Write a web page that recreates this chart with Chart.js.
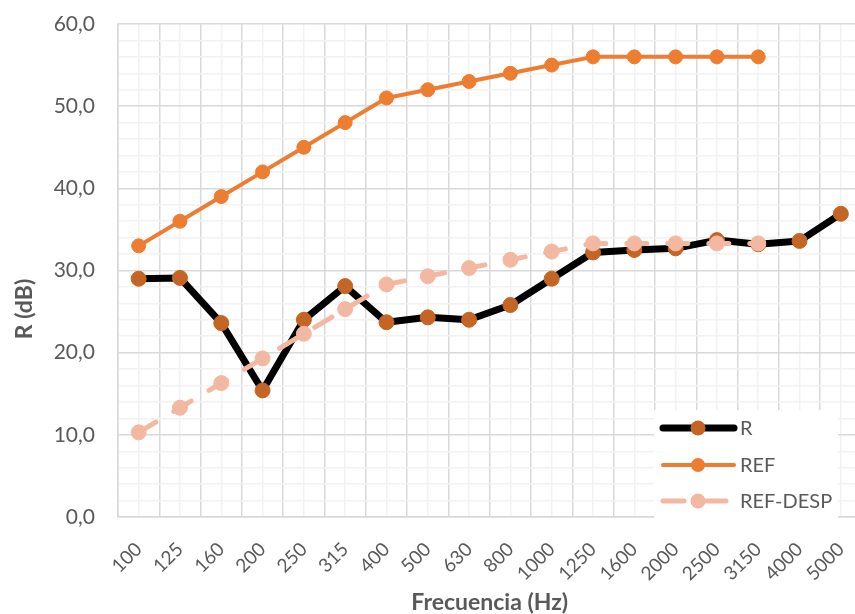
<!DOCTYPE html>
<html>
<head>
<meta charset="utf-8">
<script src="https://cdn.jsdelivr.net/npm/chart.js@4"></script>
<style>
html,body{margin:0;padding:0;overflow:hidden;background:#fff;width:855px;height:614px;}
canvas{display:block;}
</style>
</head>
<body>
<canvas id="c" width="870" height="614" style="width:870px;height:614px"></canvas>
<script>
const categories = ['100','125','160','200','250','315','400','500','630','800','1000','1250','1600','2000','2500','3150','4000','5000'];
const rValues    = [29.0, 29.1, 23.6, 15.4, 24.0, 28.1, 23.7, 24.3, 24.0, 25.8, 29.0, 32.2, 32.5, 32.7, 33.7, 33.2, 33.6, 36.9];
const refValues  = [33, 36, 39, 42, 45, 48, 51, 52, 53, 54, 55, 56, 56, 56, 56, 56, null, null];
const despValues = [10.3, 13.3, 16.3, 19.3, 22.3, 25.3, 28.3, 29.3, 30.3, 31.3, 32.3, 33.3, 33.3, 33.3, 33.3, 33.3, null, null];
const seriesNames = ['R', 'REF', 'REF-DESP'];
const xTitle = 'Frecuencia (Hz)';
const yTitle = 'R (dB)';

const FONT = 'Lato';
const TXT = '#595959';
const MAJOR = '#D9D9D9';
const MINOR = '#F2F2F2';

function zeroPad(s) { s.paddingTop = 0; s.paddingBottom = 0; s.paddingLeft = 0; s.paddingRight = 0; }

const overlay = {
  id: 'overlay',
  afterDraw(chart) {
    const ctx = chart.ctx;
    // y title
    ctx.save();
    ctx.translate(25, 309);
    ctx.rotate(-Math.PI / 2);
    ctx.font = 'bold 23px ' + FONT;
    ctx.fillStyle = TXT;
    ctx.textAlign = 'center';
    ctx.textBaseline = 'middle';
    ctx.fillText(yTitle, 0, 0);
    ctx.restore();
    // legend
    ctx.save();
    ctx.fillStyle = '#fff';
    ctx.fillRect(654, 410, 184, 109);
    const ys = [428, 465, 501];
    const ds = chart.data.datasets;
    [0, 1, 2].forEach((i, k) => {
      const d = ds[i];
      const y = ys[k];
      ctx.strokeStyle = d.borderColor;
      ctx.lineWidth = d.borderWidth;
      ctx.lineCap = 'round';
      ctx.beginPath();
      if (d.borderDash && d.borderDash.length) {
        ctx.moveTo(663, y); ctx.lineTo(684, y);
        ctx.moveTo(700, y); ctx.lineTo(726, y);
      } else {
        ctx.moveTo(663, y); ctx.lineTo(734, y);
      }
      ctx.stroke();
      ctx.fillStyle = d.pointBackgroundColor;
      ctx.beginPath();
      ctx.arc(698, y, d.pointRadius, 0, Math.PI * 2);
      ctx.fill();
      ctx.fillStyle = TXT;
      ctx.font = '20px ' + FONT;
      ctx.textAlign = 'left';
      ctx.textBaseline = 'middle';
      ctx.fillText(d.label, 740, y + 1);
    });
    ctx.restore();
  }
};

new Chart(document.getElementById('c'), {
  type: 'line',
  data: {
    labels: categories,
    datasets: [
      {
        label: seriesNames[0], data: rValues, order: 3,
        borderColor: '#000000', borderWidth: 7, borderJoinStyle: 'round',
        pointBackgroundColor: '#C46526', pointBorderColor: '#C46526', pointBorderWidth: 1,
        pointRadius: 7.5, tension: 0
      },
      {
        label: seriesNames[1], data: refValues, order: 2,
        borderColor: '#ED7D31', borderWidth: 4, borderJoinStyle: 'round',
        pointBackgroundColor: '#ED7D31', pointBorderColor: '#ED7D31', pointBorderWidth: 1,
        pointRadius: 7, tension: 0
      },
      {
        label: seriesNames[2], data: despValues, order: 1,
        borderColor: '#F3B8A2', borderWidth: 5, borderDash: [20, 21], borderCapStyle: 'round',
        pointBackgroundColor: '#F3B8A2', pointBorderColor: '#F3B8A2', pointBorderWidth: 1,
        pointRadius: 7.5, tension: 0
      }
    ]
  },
  options: {
    responsive: false,
    devicePixelRatio: 1,
    animation: false,
    layout: { padding: { top: 24, right: 4, left: 0, bottom: 0 } },
    plugins: { legend: { display: false }, tooltip: { enabled: false } },
    scales: {
      x2: {
        type: 'category', labels: categories, position: 'top', offset: true, z: -1,
        grid: { offset: false, color: MINOR, lineWidth: 1.5, drawTicks: false },
        ticks: { display: false }, border: { display: false },
        afterFit(s) { s.height = 0; zeroPad(s); }
      },
      x: {
        type: 'category', position: 'bottom', offset: true,
        grid: { offset: true, color: MAJOR, lineWidth: 1.5, drawTicks: false },
        border: { color: MAJOR, width: 1.5 },
        ticks: { autoSkip: false, minRotation: 45, maxRotation: 45, padding: 21,
                 color: TXT, font: { family: FONT, size: 19 } },
        title: { display: true, text: xTitle, color: TXT, padding: { top: 0, bottom: -2 },
                 font: { family: FONT, size: 23, weight: 'bold' } },
        afterFit(s) { s.height = 97; zeroPad(s); }
      },
      y: {
        min: 0, max: 60,
        grid: { color: c => (c.tick && c.tick.value % 10 === 0) ? MAJOR : MINOR, lineWidth: 1.5, drawTicks: false },
        border: { color: MAJOR, width: 1.5 },
        ticks: { stepSize: 2, autoSkip: false, padding: 23, color: TXT, font: { family: FONT, size: 21 },
                 callback: v => (v % 10 === 0 ? v.toFixed(1).replace('.', ',') : '') },
        afterFit(s) { s.width = 118; zeroPad(s); }
      }
    }
  },
  plugins: [overlay]
});
</script>
</body>
</html>
